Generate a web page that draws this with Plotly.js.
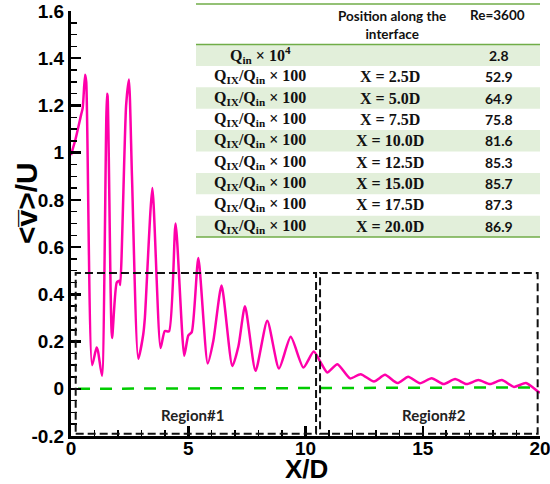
<!DOCTYPE html>
<html>
<head>
<meta charset="utf-8">
<script src="https://cdn.plot.ly/plotly-3.0.1.min.js"></script>
<style>html,body{margin:0;padding:0;background:#fff;}#chart{width:550px;height:484px;}</style>
</head>
<body>
<div id="chart"></div>
<script>
// ---- data ----
const xD = [0,0.2,0.43,0.5,0.6,0.65,0.9,1.09,1.15,1.32,1.535,1.56,1.75,1.95,2.06,2.1,2.35,2.47,2.6,2.87,3.08,3.15,3.47,3.82,4.0,4.18,4.46,4.83,5.0,5.15,5.43,5.83,6.07,6.42,6.88,7.14,7.42,7.87,8.37,8.87,9.37,9.91,10.35,10.69,10.93,11.36,11.9,12.35,12.92,13.39,13.92,14.38,14.88,15.38,15.88,16.38,16.87,17.37,17.87,18.37,18.89,19.4,19.93,20];
const vU = [0.99,1.06,1.16,1.19,1.33,1.30,0.10,0.175,0.16,0.055,1.25,1.24,0.215,0.45,0.458,0.44,1.2,1.31,0.9,0.127,0.23,0.3,0.85,0.173,0.245,0.243,0.70,0.14,0.225,0.24,0.554,0.107,0.203,0.437,0.096,0.18,0.35,0.076,0.288,0.086,0.22,0.09,0.158,0.104,0.069,0.104,0.044,0.062,0.031,0.059,0.024,0.051,0.023,0.045,0.02,0.041,0.02,0.037,0.02,0.037,0.008,0.024,-0.013,-0.016];
const refX = [0.3, 19.9];
const refY = [0, 0.006];
const yTickVals = [-0.2,0,0.2,0.4,0.6,0.8,1,1.2,1.4,1.6];
const yTickText = ['-0.2','0','0.2','0.4','0.6','0.8','1','1.2','1.4','1.6'];
const xTickVals = [0,5,10,15,20];
const xTickText = ['0','5','10','15','20'];
const regionNames = ['Region#1','Region#2'];
const regionX0 = [0.2, 10.62];
const regionX1 = [10.45, 19.9];
const regionY0 = [-0.19, -0.19];
const regionY1 = [0.49, 0.49];
const regionLabelX = [5.16, 15.5];
const regionLabelY = [-0.11, -0.11];
const tableHeader = ['', 'Position along the<br>interface', 'Re=3600'];
const tableQuantity = ['Q<sub>in</sub> × 10<sup>4</sup>','Q<sub>IX</sub>/Q<sub>in</sub> × 100','Q<sub>IX</sub>/Q<sub>in</sub> × 100','Q<sub>IX</sub>/Q<sub>in</sub> × 100','Q<sub>IX</sub>/Q<sub>in</sub> × 100','Q<sub>IX</sub>/Q<sub>in</sub> × 100','Q<sub>IX</sub>/Q<sub>in</sub> × 100','Q<sub>IX</sub>/Q<sub>in</sub> × 100','Q<sub>IX</sub>/Q<sub>in</sub> × 100'];
const tablePosition = ['', 'X = 2.5D','X = 5.0D','X = 7.5D','X = 10.0D','X = 12.5D','X = 15.0D','X = 17.5D','X = 20.0D'];
const tableValue = ['2.8','52.9','64.9','75.8','81.6','85.3','85.7','87.3','86.9'];

// ---- layout helpers (pixel -> paper) ----
const L = 71, R = 10, T = 11, B = 48, W = 550, H = 484;
const pw = W - L - R, ph = H - T - B;
const px = p => (p - L) / pw;
const py = p => (H - B - p) / ph;

const shapes = [];
const annotations = [];
function ann(o) { annotations.push(Object.assign({showarrow:false, xanchor:'center', yanchor:'middle'}, o)); }

// region boxes
for (let i = 0; i < regionNames.length; i++) {
  shapes.push({type:'rect', xref:'x', yref:'y', x0:regionX0[i], x1:regionX1[i], y0:regionY0[i], y1:regionY1[i],
    line:{color:'#111', width:2, dash:'8px,4px'}, fillcolor:'rgba(0,0,0,0)'});
  ann({xref:'x', yref:'y', x:regionLabelX[i], y:regionLabelY[i], text:'<b>'+regionNames[i]+'</b>',
    font:{family:'Lato, sans-serif', size:15, color:'#222'}});
}

// table
const tblL = 196, tblR = 540, tblTop = 4, hdrBot = 44.5, rowH = 21.4;
const col = [260, 390, 499];
const nRows = tableValue.length;
for (let i = 0; i < nRows; i++) {
  if (i % 2 === 0) {
    shapes.push({type:'rect', xref:'paper', yref:'paper', x0:px(tblL), x1:px(tblR), y0:py(hdrBot + rowH*(i+1)), y1:py(hdrBot + rowH*i),
      fillcolor:'#e2efda', line:{width:0}, layer:'below'});
  }
  const yc = py(hdrBot + rowH*(i+0.5));
  ann({xref:'paper', yref:'paper', x:px(col[0]), y:yc, text:'<b>'+tableQuantity[i]+'</b>',
    font:{family:'Liberation Serif, serif', size:16, color:'#111'}});
  if (tablePosition[i]) ann({xref:'paper', yref:'paper', x:px(col[1]), y:yc, text:'<b>'+tablePosition[i]+'</b>',
    font:{family:'Liberation Serif, serif', size:16, color:'#111'}});
  ann({xref:'paper', yref:'paper', x:px(col[2]), y:yc, text:'<b>'+tableValue[i]+'</b>',
    font:{family:'Lato, sans-serif', size:14, color:'#111'}});
}
// header
ann({xref:'paper', yref:'paper', x:px(392), y:py(25.5), text:'<b>'+tableHeader[1]+'</b>',
  font:{family:'Lato, sans-serif', size:13.5, color:'#111'}, align:'center'});
ann({xref:'paper', yref:'paper', x:px(497), y:py(15), text:'<b>'+tableHeader[2]+'</b>',
  font:{family:'Lato, sans-serif', size:13.5, color:'#111'}});
// table rules
[tblTop, hdrBot, hdrBot + rowH*nRows].forEach(yy => {
  shapes.push({type:'line', xref:'paper', yref:'paper', x0:px(tblL), x1:px(tblR), y0:py(yy), y1:py(yy),
    line:{color:'#70ad47', width:1.5}});
});

// axis titles
ann({xref:'paper', yref:'paper', x:px(26), y:py(203), text:'<b>&lt;v\u0305&gt;/U</b>', textangle:-90,
  font:{family:'Liberation Sans, Arial, sans-serif', size:30, color:'#000'}});
ann({xref:'paper', yref:'paper', x:px(306), y:py(469), text:'<b>X/D</b>',
  font:{family:'Liberation Sans, Arial, sans-serif', size:26, color:'#000'}});

const traces = [
  {x:refX, y:refY, type:'scatter', mode:'lines', line:{color:'#00cc00', width:2.5, dash:'12px,10px'}, hoverinfo:'skip'},
  {x:xD, y:vU, type:'scatter', mode:'lines', line:{color:'#ff00aa', width:2.5, shape:'spline', smoothing:0.6}}
];

const axisFont = {family:'Liberation Sans, Arial, sans-serif', size:19, color:'#000', weight:'bold'};
const layout = {
  width:W, height:H,
  margin:{l:L, r:R, t:T, b:B},
  paper_bgcolor:'#fff', plot_bgcolor:'#fff',
  showlegend:false,
  xaxis:{range:[0,20], tickvals:xTickVals, ticktext:xTickText, showgrid:false, zeroline:false,
    showline:true, linecolor:'#000', linewidth:3, ticks:'inside', ticklen:10, tickwidth:2.5, tickcolor:'#000',
    minor:{dtick:1, ticks:'inside', ticklen:6, tickwidth:1.5, tickcolor:'#000', showgrid:false},
    tickfont:axisFont, ticklabeloverflow:'allow', ticklabelstandoff:-7},
  yaxis:{range:[-0.2,1.6], tickvals:yTickVals, ticktext:yTickText, showgrid:false, zeroline:false,
    showline:true, linecolor:'#000', linewidth:3, ticks:'inside', ticklen:10, tickwidth:2.5, tickcolor:'#000',
    minor:{dtick:0.05, ticks:'inside', ticklen:6, tickwidth:1.5, tickcolor:'#000', showgrid:false},
    tickfont:axisFont, ticklabeloverflow:'allow'},
  shapes:shapes,
  annotations:annotations
};
Plotly.newPlot('chart', traces, layout, {displayModeBar:false, staticPlot:true});
</script>
</body>
</html>
